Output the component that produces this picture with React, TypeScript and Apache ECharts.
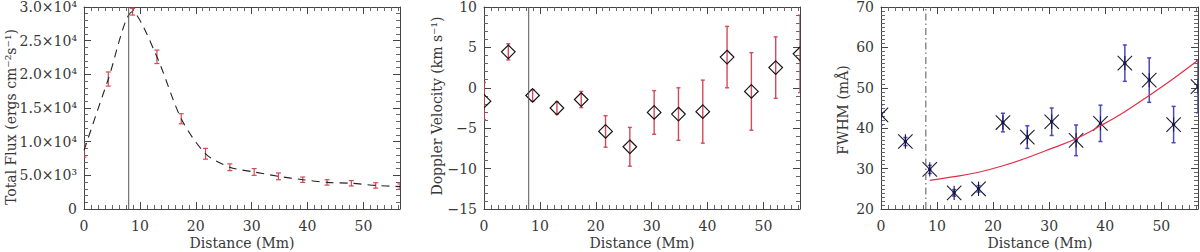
import React, { useEffect, useRef } from 'react';
import * as echarts from 'echarts';

// ---- data ----
const distance = [0, 4.35, 8.7, 13.05, 17.4, 21.75, 26.1, 30.45, 34.8, 39.15, 43.5, 47.85, 52.2, 56.55];
const flux = [8700, 19300, 29300, 22600, 13400, 8200, 6200, 5500, 4850, 4350, 3950, 3820, 3500, 3330];
const fluxErr = [1000, 1050, 500, 1000, 750, 800, 500, 500, 500, 400, 400, 400, 400, 400];
const velocity = [-1.65, 4.45, -0.95, -2.5, -1.45, -5.4, -7.3, -3.05, -3.25, -2.95, 3.8, -0.45, 2.5, 4.2];
const velocityErr = [2.3, 1.0, 0.7, 0.75, 1.0, 1.95, 2.4, 2.7, 3.25, 3.9, 3.8, 4.8, 3.8, 4.8];
const fwhm = [43.3, 36.7, 29.8, 24.0, 25.0, 41.4, 37.8, 41.6, 37.0, 41.2, 56.1, 51.9, 40.9, 50.3];
const fwhmErr = [2.5, 1.0, 1.0, 0.8, 0.8, 2.3, 2.8, 3.4, 3.8, 4.5, 4.5, 5.5, 4.5, 6.5];
const fitX = [8.7, 13.05, 17.4, 21.75, 26.1, 30.45, 34.8, 39.15, 43.5, 47.85, 52.2, 56.55];
const fitY = [27.1, 28.0, 29.1, 30.7, 32.7, 35.0, 37.4, 40.6, 44.1, 48.1, 52.3, 56.8];
const markerDistance = 8;
const xTickLabels = ['0', '10', '20', '30', '40', '50'];
const fluxTickLabels = ['0', '5.0×10³', '1.0×10⁴', '1.5×10⁴', '2.0×10⁴', '2.5×10⁴', '3.0×10⁴'];
const velocityTickLabels = ['−15', '−10', '−5', '0', '5', '10'];
const fwhmTickLabels = ['20', '30', '40', '50', '60', '70'];

const X_MAX = 56.55;
const FONT = 'DejaVu Serif';
const AX = '#444';
const TXT = '#383838';

const grids = [
  { left: 84, top: 7, width: 316, height: 202 },
  { left: 484, top: 7, width: 316, height: 202 },
  { left: 881, top: 7, width: 317, height: 202 },
];

function xAxesFor(gridIndex: number) {
  const base: any = {
    gridIndex,
    type: 'value',
    min: 0,
    max: X_MAX,
    interval: 10,
    axisLine: { show: true, onZero: false, lineStyle: { color: AX, width: 1 } },
    axisTick: { show: true, inside: true, length: 7, lineStyle: { color: AX } },
    minorTick: { show: true, splitNumber: 8, length: 4, lineStyle: { color: '#666' } },
    splitLine: { show: false },
    minorSplitLine: { show: false },
  };
  return [
    {
      ...base,
      position: 'bottom',
      axisLabel: {
        show: true,
        margin: 10,
        fontFamily: FONT,
        fontSize: 14,
        color: TXT,
        showMaxLabel: false,
        formatter: (v: number) => {
          const i = Math.round(v / 10);
          return Math.abs(v - i * 10) < 1e-6 && xTickLabels[i] !== undefined ? xTickLabels[i] : '';
        },
      },
    },
    { ...base, position: 'top', axisLabel: { show: false } },
  ];
}

function yAxesFor(gridIndex: number, min: number, max: number, interval: number, minor: number, labels: string[]) {
  const base: any = {
    gridIndex,
    type: 'value',
    min,
    max,
    interval,
    axisLine: { show: true, onZero: false, lineStyle: { color: AX, width: 1 } },
    axisTick: { show: true, inside: true, length: 7, lineStyle: { color: AX } },
    minorTick: { show: true, splitNumber: minor, length: 4, lineStyle: { color: '#666' } },
    splitLine: { show: false },
    minorSplitLine: { show: false },
  };
  return [
    {
      ...base,
      position: 'left',
      axisLabel: {
        show: true,
        margin: 7,
        fontFamily: FONT,
        fontSize: 14,
        color: TXT,
        formatter: (v: number) => labels[Math.round((v - min) / interval)] ?? '',
      },
    },
    { ...base, position: 'right', axisLabel: { show: false } },
  ];
}

function errItem(color: string, cap: number, lw: number, marker: string) {
  return (params: any, api: any) => {
    const x = api.value(0);
    const y = api.value(1);
    const e = api.value(2);
    const p = api.coord([x, y]);
    const t = api.coord([x, y + e]);
    const b = api.coord([x, y - e]);
    const st = { stroke: color, lineWidth: lw };
    const children: any[] = [
      { type: 'line', shape: { x1: p[0], y1: t[1], x2: p[0], y2: b[1] }, style: st },
      { type: 'line', shape: { x1: p[0] - cap, y1: t[1], x2: p[0] + cap, y2: t[1] }, style: st },
      { type: 'line', shape: { x1: p[0] - cap, y1: b[1], x2: p[0] + cap, y2: b[1] }, style: st },
    ];
    if (marker === 'diamond') {
      const s = 6.8;
      children.push({
        type: 'polygon',
        shape: { points: [[p[0], p[1] - s], [p[0] + s, p[1]], [p[0], p[1] + s], [p[0] - s, p[1]]] },
        style: { fill: 'none', stroke: '#151515', lineWidth: 1.2 },
      });
    } else if (marker === 'asterisk') {
      const s = 7.2;
      const ms = { stroke: '#1a1a3a', lineWidth: 1.1 };
      children.push(
        { type: 'line', shape: { x1: p[0] - s, y1: p[1] - s, x2: p[0] + s, y2: p[1] + s }, style: ms },
        { type: 'line', shape: { x1: p[0] - s, y1: p[1] + s, x2: p[0] + s, y2: p[1] - s }, style: ms },
        { type: 'line', shape: { x1: p[0], y1: p[1] - s, x2: p[0], y2: p[1] + s }, style: ms },
        { type: 'circle', shape: { cx: p[0], cy: p[1], r: 1.7 }, style: { fill: '#15154a' } }
      );
    }
    return { type: 'group', children };
  };
}

function vline(xi: number, yi: number, ymin: number, ymax: number, type: any) {
  return {
    type: 'line',
    xAxisIndex: xi,
    yAxisIndex: yi,
    data: [[markerDistance, ymin], [markerDistance, ymax]],
    symbol: 'none',
    silent: true,
    lineStyle: { color: '#555', width: 1, type },
  };
}

function ytitle(x: number, y: number, text: string) {
  return {
    type: 'text',
    x,
    y,
    rotation: Math.PI / 2,
    style: { text, font: `14px "${FONT}"`, fill: TXT, align: 'center', verticalAlign: 'middle' },
  };
}
function xtitle(x: number, text: string) {
  return {
    type: 'text',
    x,
    y: 243,
    style: { text, font: `14px "${FONT}"`, fill: TXT, align: 'center', verticalAlign: 'middle' },
  };
}

export default function App() {
  const ref = useRef<HTMLDivElement>(null);
  useEffect(() => {
    const chart = echarts.init(ref.current!, null, { renderer: 'svg' });
    const zip3 = (a: number[], b: number[], c: number[]) => a.map((v, i) => [v, b[i], c[i]]);
    const option: any = {
      animation: false,
      backgroundColor: '#fff',
      grid: grids,
      xAxis: [...xAxesFor(0), ...xAxesFor(1), ...xAxesFor(2)],
      yAxis: [
        ...yAxesFor(0, 0, 30000, 5000, 5, fluxTickLabels),
        ...yAxesFor(1, -15, 10, 5, 5, velocityTickLabels),
        ...yAxesFor(2, 20, 70, 10, 10, fwhmTickLabels),
      ],
      series: [
        {
          type: 'line',
          xAxisIndex: 0,
          yAxisIndex: 0,
          data: distance.map((d, i) => [d, flux[i]]),
          smooth: 0.28,
          symbol: 'none',
          lineStyle: { color: '#222', width: 1.1, type: [8, 6] },
        },
        {
          type: 'custom',
          xAxisIndex: 0,
          yAxisIndex: 0,
          clip: true,
          data: zip3(distance, flux, fluxErr),
          encode: { x: 0, y: 1 },
          renderItem: errItem('#d24a58', 2.5, 1.2, 'none'),
        },
        vline(0, 0, 0, 30000, 'solid'),
        vline(2, 2, -15, 10, 'solid'),
        {
          type: 'custom',
          xAxisIndex: 2,
          yAxisIndex: 2,
          clip: true,
          data: zip3(distance, velocity, velocityErr),
          encode: { x: 0, y: 1 },
          renderItem: errItem('#d24a5c', 2, 1.4, 'diamond'),
        },
        vline(4, 4, 20, 70, [7, 3, 1.5, 3]),
        {
          type: 'line',
          xAxisIndex: 4,
          yAxisIndex: 4,
          data: fitX.map((d, i) => [d, fitY[i]]),
          smooth: 0.4,
          symbol: 'none',
          lineStyle: { color: '#e03048', width: 1.2 },
        },
        {
          type: 'custom',
          xAxisIndex: 4,
          yAxisIndex: 4,
          clip: true,
          data: zip3(distance, fwhm, fwhmErr),
          encode: { x: 0, y: 1 },
          renderItem: errItem('#4a4ac0', 2, 1.5, 'asterisk'),
        },
      ],
      graphic: [
        ytitle(11, 117, 'Total Flux (ergs cm⁻²s⁻¹)'),
        ytitle(437, 106, 'Doppler Velocity (km s⁻¹)'),
        ytitle(843, 110, 'FWHM (mÅ)'),
        xtitle(242, 'Distance (Mm)'),
        xtitle(642, 'Distance (Mm)'),
        xtitle(1040, 'Distance (Mm)'),
      ],
    };
    chart.setOption(option);
    return () => chart.dispose();
  }, []);
  return <div ref={ref} style={{ position: 'absolute', left: 0, top: 0, width: 1200, height: 252 }} />;
}
